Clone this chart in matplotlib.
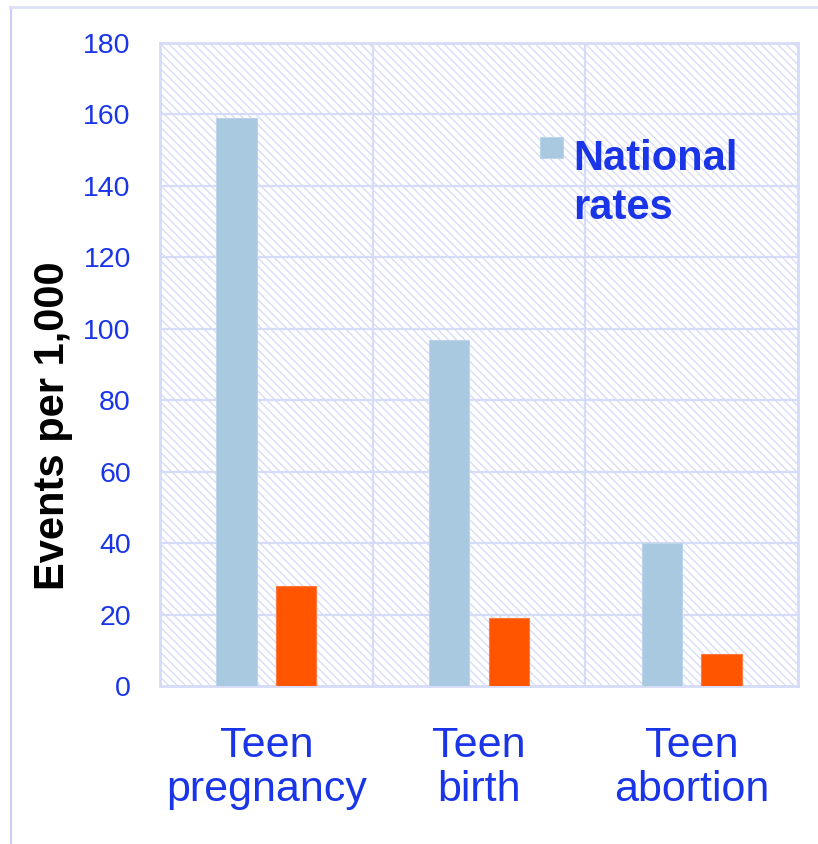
import numpy as np
import matplotlib
matplotlib.use("Agg")
import matplotlib.pyplot as plt
from matplotlib.lines import Line2D
from matplotlib.patches import Rectangle

plt.rcParams['font.family'] = ['Liberation Sans', 'DejaVu Sans']
plt.rcParams['hatch.linewidth'] = 1.0

categories = ["Teen\npregnancy", "Teen\nbirth", "Teen\nabortion"]
national_rates = [159, 97, 40]
local_rates = [28, 19, 9]
y_ticks = [0, 20, 40, 60, 80, 100, 120, 140, 160, 180]
legend_label = "National\nrates"

blue_text = '#1a35e8'
grid_col = '#d6dbf7'
bar_blue = '#a9c9e1'

fig = plt.figure(figsize=(8.18, 8.44), dpi=100)
ax = fig.add_axes([0.1956, 0.1872, 0.78, 0.7618])

# hatched background
ax.patch.set_facecolor('white')
ax.patch.set_hatch('\\\\\\\\')
ax.patch.set_edgecolor('#d8dcf8')
ax.patch.set_linewidth(0)

x = np.arange(len(categories))
w = 0.19
off = 0.14
ax.bar(x - off, national_rates, w, color=bar_blue, edgecolor='#bcd5ea',
       linewidth=0.8, zorder=3)
ax.bar(x + off, local_rates, w, color='#ff5500', edgecolor='#ff7a40',
       linewidth=0.8, zorder=3)

ax.set_xlim(-0.5, 2.5)
ax.set_ylim(0, 180)
ax.set_yticks(y_ticks)
ax.set_xticks(x)
ax.set_xticklabels(categories, fontsize=31, color=blue_text, linespacing=1.12)
ax.tick_params(axis='y', length=0, pad=21, labelsize=20.5, labelcolor=blue_text)
ax.tick_params(axis='x', length=0, pad=29)

# grid: horizontal at each tick, vertical at category boundaries
for yv in y_ticks[1:-1]:
    ax.axhline(yv, color=grid_col, lw=1.6, zorder=1)
for xv in [0.5, 1.5]:
    ax.axvline(xv, color=grid_col, lw=1.6, zorder=1)
for sp in ax.spines.values():
    sp.set_color(grid_col)
    sp.set_linewidth(2)

ax.set_ylabel("Events per 1,000", fontsize=30, fontweight='bold', color='black')
ax.yaxis.set_label_coords(-0.137, 0.405)

# legend: square marker plus two-line label
ax.add_patch(Rectangle((0.596, 0.821), 0.035, 0.033, transform=ax.transAxes,
                       facecolor=bar_blue, edgecolor='#bcd5ea', lw=0.8,
                       zorder=4, clip_on=False))
ax.text(0.647, 0.851, legend_label, transform=ax.transAxes, fontsize=30,
        fontweight='bold', color=blue_text, va='top', ha='left',
        linespacing=1.3, zorder=4)

# outer slide frame
fig.add_artist(Line2D([10.5 / 818, 10.5 / 818], [0, 1 - 7 / 844],
                      color='#c9cef2', lw=1.5, transform=fig.transFigure))
fig.add_artist(Line2D([10 / 818, 1], [1 - 7 / 844, 1 - 7 / 844],
                      color='#dde0f6', lw=2, transform=fig.transFigure))

fig.savefig('out.png', dpi=100)
